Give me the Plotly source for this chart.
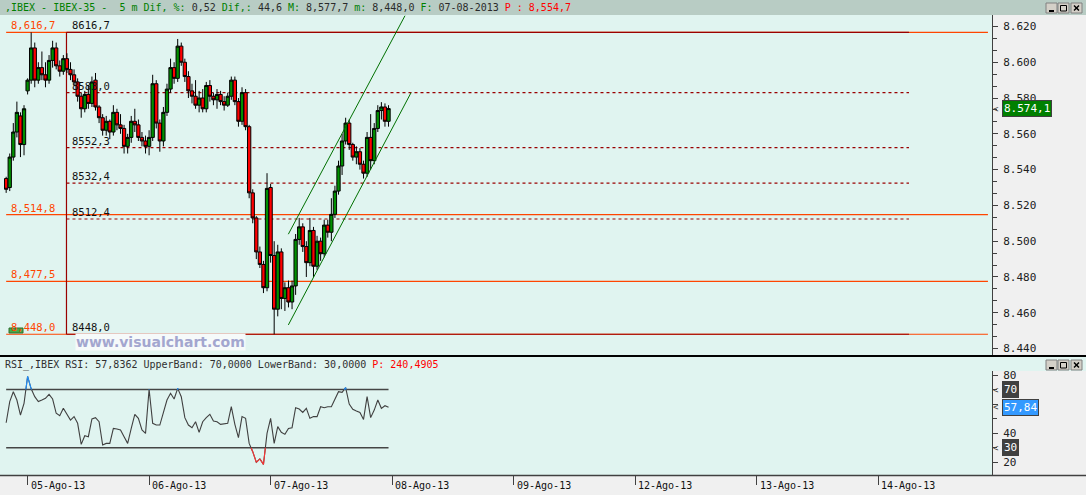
import plotly.graph_objects as go

W, H = 1086, 495

# ------------------------------------------------------------------ data
tick_labels = ["05-Ago-13", "06-Ago-13", "07-Ago-13", "08-Ago-13",
               "09-Ago-13", "12-Ago-13", "13-Ago-13", "14-Ago-13"]
bars_per_session = 34          # 15-minute bars, 09:00-17:30
aug02_first_bar = 28           # chart opens on the last 6 bars of 02-Ago-13

aug02_open  = [8535, 8530, 8547, 8561, 8570, 8554]
aug02_high  = [8536, 8549, 8566, 8578, 8572, 8576]
aug02_low   = [8527, 8528, 8545, 8558, 8547, 8548]
aug02_close = [8529, 8547, 8561, 8572, 8554, 8574]

aug05_open  = [8584, 8590, 8608, 8590, 8597, 8593, 8590, 8601, 8608, 8598, 8595, 8602, 8596, 8593, 8589, 8581, 8574,
               8582, 8577, 8590, 8575, 8569, 8562, 8567, 8561, 8572, 8565, 8563, 8553, 8558, 8567, 8565, 8558, 8556]
aug05_high  = [8591, 8616.7, 8611, 8600, 8606, 8600, 8604, 8612, 8611, 8601, 8604, 8605, 8600, 8596, 8591, 8583, 8584,
               8587, 8592, 8594, 8576, 8571, 8570, 8568, 8576, 8574, 8571, 8565, 8560, 8570, 8574, 8568, 8561, 8559]
aug05_low   = [8582, 8588, 8586, 8588, 8590, 8586, 8588, 8597, 8596, 8592, 8593, 8594, 8590, 8587, 8578, 8569, 8572,
               8574, 8575, 8573, 8566, 8559, 8559, 8557, 8559, 8562, 8560, 8549, 8549, 8555, 8561, 8556, 8553, 8549]
aug05_close = [8590, 8608, 8590, 8597, 8593, 8590, 8601, 8608, 8598, 8595, 8602, 8596, 8593, 8589, 8581, 8574, 8582,
               8577, 8589, 8575, 8569, 8562, 8567, 8561, 8572, 8565, 8563, 8553, 8558, 8567, 8565, 8558, 8556, 8553]

aug06_open  = [8553, 8558, 8588, 8566, 8556, 8572, 8585, 8597, 8591, 8609, 8600, 8592, 8584, 8581, 8576, 8580, 8574,
               8587, 8581, 8579, 8582, 8578, 8576, 8581, 8590, 8578, 8567, 8583, 8564, 8527, 8513, 8494, 8487, 8474]
aug06_high  = [8562, 8593, 8590, 8568, 8575, 8588, 8602, 8600, 8613, 8611, 8602, 8595, 8588, 8590, 8584, 8585, 8589,
               8590, 8583, 8585, 8584, 8581, 8583, 8592, 8592, 8580, 8586, 8585, 8565, 8529, 8514, 8497, 8489, 8538]
aug06_low   = [8548, 8556, 8563, 8550, 8553, 8570, 8583, 8588, 8589, 8598, 8589, 8580, 8577, 8574, 8572, 8572, 8572,
               8578, 8576, 8574, 8576, 8573, 8575, 8579, 8576, 8564, 8565, 8562, 8524, 8510, 8490, 8485, 8471, 8472]
aug06_close = [8558, 8588, 8566, 8556, 8572, 8585, 8597, 8591, 8609, 8600, 8592, 8584, 8581, 8576, 8580, 8574, 8587,
               8581, 8579, 8582, 8578, 8576, 8581, 8590, 8578, 8567, 8583, 8564, 8527, 8513, 8494, 8487, 8474, 8529.5]

aug07_open  = [8530, 8492, 8462, 8494, 8468, 8474, 8466, 8475, 8501, 8508, 8497, 8488, 8506, 8486, 8500, 8493, 8509,
               8505, 8515, 8528, 8542, 8556, 8566, 8554, 8547, 8550, 8543, 8538, 8558, 8545, 8563, 8573, 8575, 8567]
aug07_high  = [8532, 8500, 8498, 8496, 8477, 8478, 8478, 8504, 8513, 8510, 8500, 8513, 8508, 8503, 8502, 8512, 8512,
               8524, 8531, 8545, 8560, 8569, 8568, 8555, 8553, 8552, 8545, 8561, 8571, 8566, 8576, 8577.7, 8577, 8576]
aug07_low   = [8488, 8448, 8458, 8462, 8461, 8463, 8462, 8470, 8498, 8494, 8480, 8486, 8480, 8484, 8489, 8491, 8502,
               8500, 8513, 8526, 8537, 8554, 8551, 8545, 8543, 8540, 8535, 8536, 8540, 8543, 8561, 8568, 8564, 8564]
aug07_close = [8492, 8462, 8494, 8468, 8474, 8466, 8475, 8501, 8508, 8497, 8488, 8506, 8486, 8500, 8493, 8509, 8505,
               8515, 8528, 8542, 8556, 8566, 8554, 8547, 8550, 8543, 8538, 8558, 8545, 8563, 8573, 8575, 8567, 8574.1]

aug02_rsi = [47.2, 61.7, 68.5, 62.8, 52.5, 60.5]
aug05_rsi = [79.0, 70.5, 65.1, 61.7, 62.8, 64.0, 66.7, 63.5, 53.7, 52.0, 57.1, 53.0, 49.0, 51.4, 46.8, 32.3, 38.3,
             37.6, 49.8, 50.7, 47.9, 31.9, 33.0, 33.0, 43.3, 42.9, 42.2, 37.6, 33.0, 43.3, 53.0, 50.2, 42.2, 39.9]
aug06_rsi = [70.2, 46.8, 45.6, 45.6, 54.8, 62.8, 67.4, 63.5, 70.8, 65.1, 50.7, 45.6, 43.8, 47.9, 40.6, 47.9, 50.7,
             53.0, 48.4, 47.9, 46.1, 46.6, 46.8, 58.2, 46.1, 36.9, 51.4, 50.2, 33.0, 27.3, 20.0, 22.3, 18.6, 39.9]
aug07_rsi = [50.2, 33.0, 44.5, 40.6, 39.2, 43.3, 43.8, 57.5, 56.6, 54.3, 57.1, 50.2, 51.4, 51.4, 58.2, 57.5, 58.2,
             58.2, 64.0, 68.5, 68.1, 71.3, 60.0, 56.4, 55.3, 54.3, 49.5, 65.1, 50.7, 55.9, 62.8, 57.1, 58.9, 57.8362]

rsi_upper_band, rsi_lower_band = 70.0, 30.0
rsi_p_value = 240.4905
cursor_price = 8554.7
last_date = "07-08-2013"

# drawn studies (price levels and trend-channel anchors, in trading days / price)
support_levels = [8616.7, 8514.8, 8477.5, 8448.0]
fib_levels = [8616.7, 8583.0, 8552.3, 8532.4, 8512.4, 8448.0]
fib_solid = [8616.7, 8448.0]
fib_anchor_day = 0.320
fib_end_day = 7.254
support_end_day = 7.904
channel_upper_days = [2.146, 3.106]
channel_upper_prices = [8503.9, 8626.0]
channel_lower_days = [2.146, 3.156]
channel_lower_prices = [8453.2, 8583.0]

# ------------------------------------------------------------------ derived
def session_x(day_index, first_bar, n):
    return [day_index + (first_bar + i) / bars_per_session for i in range(n)]

xs = (session_x(-1, aug02_first_bar, len(aug02_open)) + session_x(0, 0, len(aug05_open))
      + session_x(1, 0, len(aug06_open)) + session_x(2, 0, len(aug07_open)))
op = aug02_open + aug05_open + aug06_open + aug07_open
hi = aug02_high + aug05_high + aug06_high + aug07_high
lo = aug02_low + aug05_low + aug06_low + aug07_low
cl = aug02_close + aug05_close + aug06_close + aug07_close
rsi = aug02_rsi + aug05_rsi + aug06_rsi + aug07_rsi

day_max, day_min = max(aug07_high), min(aug07_low)
last_close, prev_close = aug07_close[-1], aug06_close[-1]
dif = last_close - prev_close
pct = dif / prev_close * 100


def f_cc(v, d=1):      # 8,577,7
    return f"{v:,.{d}f}".replace(".", ",")


def f_dc(v, d=1):      # 8.574,1
    return f"{v:,.{d}f}".replace(",", "#").replace(".", ",").replace("#", ".")


def f_c(v, d=1):       # 8616,7
    return f"{v:.{d}f}".replace(".", ",")


# ------------------------------------------------------------------ geometry
def PX(x):
    return x / W


def PY(y):
    return 1 - y / H


X_RANGE = [-0.2272, 7.9374]
Y_RANGE = [8436.4, 8626.4]
R_RANGE = [11.27, 92.37]
PLOT_R = 992

MONO = "DejaVu Sans Mono"
MINT = "#e0f4f0"
PANEL = "#f0f0f0"
HEADER = "#b8ccc4"
ORANGE = "#ff4500"
DRED = "#990000"
AX = "#404040"

fig = go.Figure()

fig.add_trace(go.Candlestick(
    x=xs, open=op, high=hi, low=lo, close=cl,
    increasing=dict(fillcolor="#009000", line=dict(color="#000000", width=1)),
    decreasing=dict(fillcolor="#ff0000", line=dict(color="#000000", width=1)),
    whiskerwidth=0, hoverinfo="skip", showlegend=False, xaxis="x", yaxis="y"))

# RSI line, with over-bought / over-sold parts coloured
fig.add_trace(go.Scatter(x=xs, y=rsi, mode="lines", line=dict(color="#404040", width=1.1),
                         hoverinfo="skip", showlegend=False, xaxis="x2", yaxis="y2"))


def clip_segments(xv, yv, level, above):
    sx, sy = [], []
    for i in range(len(xv) - 1):
        x0, y0, x1, y1 = xv[i], yv[i], xv[i + 1], yv[i + 1]
        in0 = y0 > level if above else y0 < level
        in1 = y1 > level if above else y1 < level
        if not (in0 or in1):
            continue
        if in0 and in1:
            seg = [(x0, y0), (x1, y1)]
        else:
            t = (level - y0) / (y1 - y0)
            xc = x0 + t * (x1 - x0)
            seg = [(x0, y0), (xc, level)] if in0 else [(xc, level), (x1, y1)]
        sx += [seg[0][0], seg[1][0], None]
        sy += [seg[0][1], seg[1][1], None]
    return sx, sy


bx, by = clip_segments(xs, rsi, rsi_upper_band, True)
rx, ry = clip_segments(xs, rsi, rsi_lower_band, False)
fig.add_trace(go.Scatter(x=bx, y=by, mode="lines", line=dict(color="#1e8fff", width=1.1),
                         hoverinfo="skip", showlegend=False, xaxis="x2", yaxis="y2"))
fig.add_trace(go.Scatter(x=rx, y=ry, mode="lines", line=dict(color="#ff3333", width=1.1),
                         hoverinfo="skip", showlegend=False, xaxis="x2", yaxis="y2"))

shapes = []


def prect(x0, y0, x1, y1, fill, line=None, lw=0, layer="below"):
    shapes.append(dict(type="rect", xref="paper", yref="paper", x0=PX(x0), x1=PX(x1),
                       y0=PY(y1), y1=PY(y0), fillcolor=fill, layer=layer,
                       line=dict(color=line or fill, width=lw)))


def pline(x0, y0, x1, y1, color, w=1, layer="below"):
    shapes.append(dict(type="line", xref="paper", yref="paper", x0=PX(x0), x1=PX(x1),
                       y0=PY(y0), y1=PY(y1), layer=layer, line=dict(color=color, width=w)))


# panels
prect(0, 0, W, 15, HEADER)
prect(PLOT_R, 15, W, 355, PANEL)
prect(0, 355, W, 357, "#000000")
prect(PLOT_R, 371, W, 475, PANEL)
prect(0, 475, W, H, PANEL)
pline(0, 475.5, W, 475.5, AX, 1.5)
pline(PLOT_R + 0.5, 15, PLOT_R + 0.5, 355, AX, 1)
pline(PLOT_R + 0.5, 371, PLOT_R + 0.5, 475, AX, 1)

# window buttons
for top in (3, 360):
    for bx0 in (1046, 1058, 1071):
        prect(bx0, top, bx0 + 11, top + 10, "#d4d0c8", "#808080", 1, layer="above")
    pline(1049, top + 8, 1054, top + 8, "#000000", 2, layer="above")
    shapes.append(dict(type="rect", xref="paper", yref="paper", x0=PX(1060.5), x1=PX(1066.5),
                       y0=PY(top + 8), y1=PY(top + 2.5), layer="above",
                       line=dict(color="#000000", width=1)))
    pline(1074, top + 2.5, 1079, top + 7.5, "#000000", 1.5, layer="above")
    pline(1074, top + 7.5, 1079, top + 2.5, "#000000", 1.5, layer="above")

# support / resistance levels (orange, full width)
for lv in support_levels:
    shapes.append(dict(type="line", xref="x", yref="y", x0=xs[0], x1=support_end_day, y0=lv, y1=lv,
                       layer="below", line=dict(color=ORANGE, width=1.2)))
# fibonacci levels
for lv in fib_levels:
    solid = lv in fib_solid
    shapes.append(dict(type="line", xref="x", yref="y", x0=fib_anchor_day, x1=fib_end_day, y0=lv, y1=lv,
                       layer="below", line=dict(color=DRED, width=1.2, dash="solid" if solid else "3px,3px")))
shapes.append(dict(type="line", xref="x", yref="y", x0=fib_anchor_day, x1=fib_anchor_day,
                   y0=min(fib_levels), y1=max(fib_levels), layer="below",
                   line=dict(color=DRED, width=1.2)))
# trend channel
for dx, py in ((channel_upper_days, channel_upper_prices), (channel_lower_days, channel_lower_prices)):
    shapes.append(dict(type="line", xref="x", yref="y", x0=dx[0], x1=dx[1], y0=py[0], y1=py[1],
                       layer="above", line=dict(color="#007000", width=1)))
# RSI bands
for lv in (rsi_upper_band, rsi_lower_band):
    shapes.append(dict(type="line", xref="x2", yref="y2", x0=xs[0], x1=xs[-1], y0=lv, y1=lv,
                       layer="below", line=dict(color="#454545", width=1.5)))

# small green marker (bottom-left)
prect(9, 328, 23, 333, "#48a848", "#2e6e2e", 1, layer="above")

ann = []


def ptext(x, y, text, color="#202020", size=10, xanchor="left", yanchor="middle", **kw):
    ann.append(dict(x=PX(x), y=PY(y), xref="paper", yref="paper", text=text, showarrow=False,
                    xanchor=xanchor, yanchor=yanchor, font=dict(family=MONO, size=size, color=color), **kw))


def sp(t, c):
    return f"<span style='color:{c}'>{t.replace(' ', '&nbsp;')}</span>"


G, D, R = "#008000", "#2a2a2a", "#ff0000"
header = (sp(",IBEX - IBEX-35 -  5 m Dif, %:", G) + sp(" " + f_c(pct, 2) + " ", D) + sp("Dif,:", G)
          + sp(" " + f_c(dif) + " ", D) + sp("M:", G) + sp(" " + f_cc(day_max) + " ", D) + sp("m:", G)
          + sp(" " + f_cc(day_min) + " ", D) + sp("F:", G) + sp(" " + last_date + " ", D)
          + sp("P : " + f_cc(cursor_price), R))
ptext(3, 8, header, size=10)

rsi_header = (sp(f"RSI_,IBEX RSI: {f_c(rsi[-1], 4)} UpperBand: {f_c(rsi_upper_band, 4)} "
                 f"LowerBand: {f_c(rsi_lower_band, 4)} ", "#303030")
              + sp("P: " + f_c(rsi_p_value, 4), R))
ptext(3, 365, rsi_header, size=10)

# level labels
for lv in support_levels:
    ann.append(dict(x=PX(9), xref="paper", y=lv, yref="y", text=f_cc(lv), showarrow=False,
                    xanchor="left", yanchor="bottom", yshift=-1,
                    font=dict(family=MONO, size=10.5, color=ORANGE)))
for lv in fib_levels:
    ann.append(dict(x=PX(70), xref="paper", y=lv, yref="y", text=f_c(lv), showarrow=False,
                    xanchor="left", yanchor="bottom", yshift=-1,
                    font=dict(family=MONO, size=10.5, color="#111111")))

# watermark
ann.append(dict(x=PX(160), y=PY(342), xref="paper", yref="paper", text="<b>www.visualchart.com</b>",
                showarrow=False, xanchor="center", yanchor="middle", bgcolor="#f6fafa", borderpad=0,
                font=dict(family="DejaVu Sans", size=14, color="#a3a6cf")))

# last price box on the price axis
ann.append(dict(x=PX(1002), xref="paper", y=last_close, yref="y", text=f_dc(last_close), showarrow=False,
                xanchor="left", yanchor="middle", bgcolor="#008000", bordercolor="#404040", borderwidth=1,
                borderpad=1, font=dict(family=MONO, size=11, color="#ffffff")))
ann.append(dict(x=PX(996), xref="paper", y=last_close, yref="y", text="&lt;", showarrow=False,
                xanchor="center", yanchor="middle", font=dict(family=MONO, size=9, color=AX)))

# RSI axis boxes
for val, txt, bg in ((rsi_upper_band, "70", "#404040"), (rsi[-1], f_c(rsi[-1], 2), "#3399ff"),
                     (rsi_lower_band, "30", "#404040")):
    ann.append(dict(x=PX(1002), xref="paper", y=val, yref="y2", text=txt, showarrow=False,
                    xanchor="left", yanchor="middle", bgcolor=bg, bordercolor="#404040", borderwidth=1,
                    borderpad=1, font=dict(family=MONO, size=11, color="#ffffff")))
    ann.append(dict(x=PX(996), xref="paper", y=val, yref="y2", text="&lt;", showarrow=False,
                    xanchor="center", yanchor="middle", font=dict(family=MONO, size=9, color=AX)))

# date labels
for i, lab in enumerate(tick_labels):
    ann.append(dict(x=i, xref="x2", y=PY(485), yref="paper", text=lab, showarrow=False,
                    xanchor="left", yanchor="middle", xshift=1,
                    font=dict(family=MONO, size=10, color="#111111")))

fig.update_layout(
    template="none",
    width=W, height=H, margin=dict(l=0, r=0, t=0, b=0),
    paper_bgcolor=MINT, plot_bgcolor=MINT,
    separators=",.",
    showlegend=False, hovermode=False,
    boxgap=0.0, boxgroupgap=0.08,
    xaxis=dict(domain=[0, PX(PLOT_R)], range=X_RANGE, anchor="y", showgrid=False, zeroline=False,
               showticklabels=False, ticks="", showline=False, rangeslider=dict(visible=False),
               fixedrange=True),
    yaxis=dict(domain=[PY(355), PY(15)], range=Y_RANGE, anchor="x", side="right", showgrid=False,
               zeroline=False, showline=False, ticks="outside", ticklen=5, tickwidth=1, tickcolor=AX,
               tick0=8440, dtick=20, tickformat=",d", ticklabelstandoff=3,
               tickfont=dict(family=MONO, size=11, color="#202020"),
               minor=dict(ticks="outside", ticklen=4, tickcolor=AX, tick0=8440, dtick=20 / 3, showgrid=False),
               fixedrange=True),
    xaxis2=dict(domain=[0, PX(PLOT_R)], range=X_RANGE, anchor="y2", showgrid=False, zeroline=False,
                showticklabels=False, ticks="outside", tickmode="array", tickvals=list(range(len(tick_labels))),
                ticklen=9, tickwidth=1, tickcolor=AX, showline=False, fixedrange=True),
    yaxis2=dict(domain=[PY(475), PY(357)], range=R_RANGE, anchor="x2", side="right", showgrid=False,
                zeroline=False, showline=False, ticks="outside", ticklen=5, tickwidth=1, tickcolor=AX,
                tickmode="array", tickvals=[20, 40, 60, 80], ticklabelstandoff=3,
                tickfont=dict(family=MONO, size=11, color="#202020"),
                minor=dict(ticks="outside", ticklen=4, tickcolor=AX, tickmode="array",
                           tickvals=[30, 50, 70]),
                fixedrange=True),
    shapes=shapes,
    annotations=ann,
)

fig.write_html("out.html", config={"displayModeBar": False},
               post_script="document.body.style.margin='0';document.body.style.padding='0';"
                           "document.documentElement.style.overflow='hidden';")
